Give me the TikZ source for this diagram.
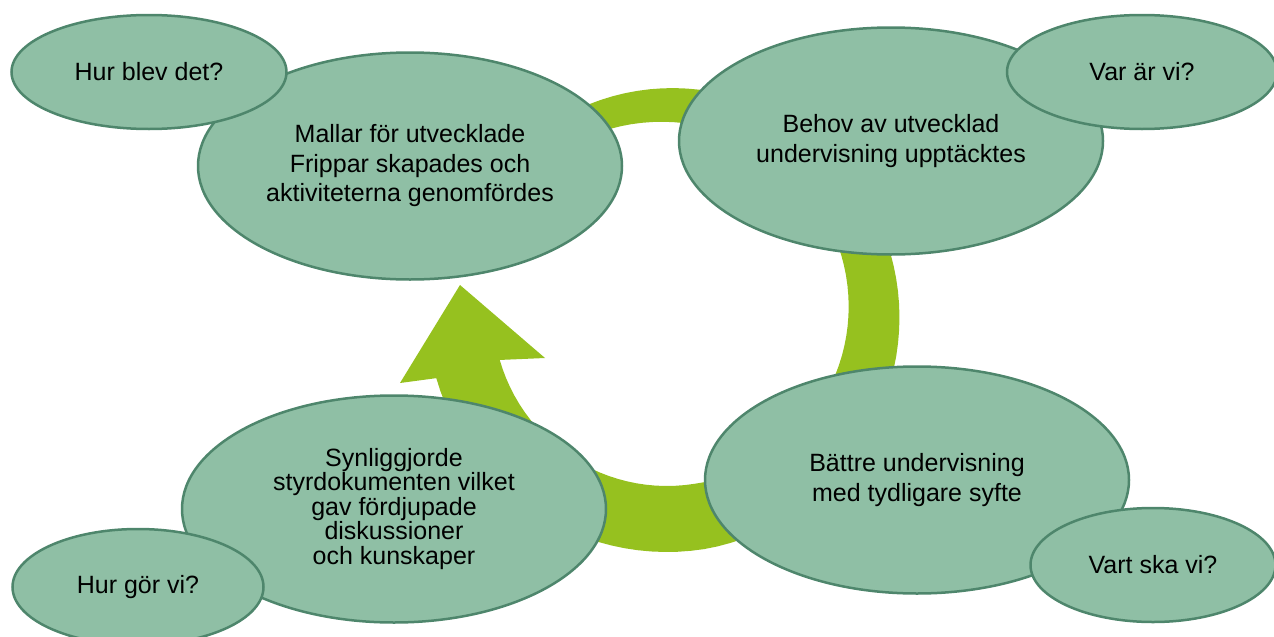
\documentclass[tikz,border=0pt]{standalone}
\usepackage{fontspec}
\setmainfont{Liberation Sans}
\usepackage{tikz}
\usetikzlibrary{shapes.geometric}
\definecolor{nodefill}{RGB}{143,191,165}
\definecolor{nodeline}{RGB}{78,134,108}
\definecolor{ringgreen}{RGB}{150,193,31}

\begin{document}
\begin{tikzpicture}[x=1pt,y=-1pt,
		declare function={ringw(\t)=min(66,28+(120-\t)*0.19);},
		big node/.style={ellipse,draw=nodeline,line width=2.5pt,fill=nodefill,
			inner sep=0pt,minimum width=424pt,minimum height=227pt,align=center,
			font=\fontsize{25}{29.5}\selectfont},
		small node/.style={big node,minimum width=272pt,minimum height=114pt}]
	\clip (0,0) rectangle (1274,637);
	% cycle arrow behind the nodes
	\fill[ringgreen] plot[domain=120:-164,samples=90]
		({667+(207+ringw(\x)/2)*cos(\x)},{312-(207+ringw(\x)/2)*sin(\x)})
		-- (400,383) -- (460,285) -- (545,358)
		-- plot[domain=-164:120,samples=90]
		({667+(207-ringw(\x)/2)*cos(\x)},{312-(207-ringw(\x)/2)*sin(\x)}) -- cycle;
	
	\node[big node] (behov) at (891,141) {Behov av utvecklad\\undervisning upptäcktes};
	\node[big node] (battre) at (917,480) {Bättre undervisning\\med tydligare syfte};
	\node[big node,font=\fontsize{25}{24.5}\selectfont] (synlig) at (394,509)
		{Synliggjorde\\styrdokumenten vilket\\gav fördjupade\\diskussioner\\och kunskaper};
	\node[big node] (mallar) at (410,166) {Mallar för utvecklade\\Frippar skapades och\\aktiviteterna genomfördes};
	
	\node[small node,minimum width=275pt] (blev) at (149,72) {Hur blev det?};
	\node[small node,minimum width=270pt] (varar) at (1142,72) {Var är vi?};
	\node[small node,minimum width=245pt] (vart) at (1153,565) {Vart ska vi?};
	\node[small node,minimum width=251pt,minimum height=116pt] (gor) at (138,587) {Hur gör vi?};
\end{tikzpicture}
\end{document}
